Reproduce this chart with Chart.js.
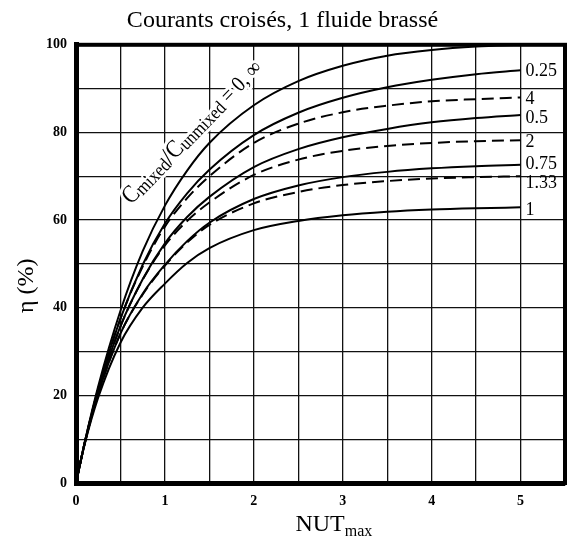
<!DOCTYPE html>
<html>
<head>
<meta charset="utf-8">
<script src="https://cdn.jsdelivr.net/npm/chart.js@4.4.1/dist/chart.umd.min.js"></script>
<style>
  html, body { margin: 0; padding: 0; background: #fff; }
  #wrap { width: 568px; height: 544px; }
</style>
</head>
<body>
<div id="wrap"><canvas id="effChart"></canvas></div>
<script>
const nut = [0, 0.1, 0.25, 0.5, 0.75, 1, 1.25, 1.5, 2, 2.5, 3, 3.5, 4, 4.5, 5]

// efficiency (%) for each Cmixed/Cunmixed ratio
const eta0   = [0, 9.5, 22.1, 39.3, 52.9, 63.3, 71.3, 77.6, 86.2, 91.7, 95.2, 97.5, 98.8, 99.6, 100]
const eta025 = [0, 9.4, 21.5, 37.5, 49.8, 59.2, 66.1, 71.5, 79.4, 84.5, 87.9, 90.3, 92.0, 93.3, 94.2]
const eta4   = [0, 9.4, 21.5, 37.5, 49.4, 58.5, 65.0, 70.0, 77.6, 82.0, 84.6, 86.1, 87.1, 87.6, 88.0]
const eta05  = [0, 9.3, 20.9, 35.8, 46.5, 54.7, 60.7, 65.3, 72.1, 76.2, 78.9, 80.8, 82.3, 83.3, 84.0]
const eta2   = [0, 9.3, 20.9, 35.7, 46.4, 54.2, 59.8, 64.0, 70.3, 73.8, 75.8, 76.9, 77.6, 78.0, 78.2]
const eta075 = [0, 9.2, 20.4, 34.1, 43.2, 49.8, 55.2, 59.4, 64.8, 67.9, 69.8, 71.0, 71.8, 72.3, 72.6]
const eta133 = [0, 9.2, 20.4, 34.1, 43.0, 49.6, 54.9, 58.9, 63.8, 66.4, 68.0, 68.9, 69.5, 69.8, 70.0]
const eta1   = [0, 9.0, 19.5, 32.0, 40.0, 45.5, 50.2, 53.6, 57.7, 59.8, 61.1, 61.9, 62.4, 62.7, 62.9]

const ratioNames = ['0, ∞', '0.25', '4', '0.5', '2', '0.75', '1.33', '1']
const xTickLabels = [0, 1, 2, 3, 4, 5]
const yTickLabels = [0, 20, 40, 60, 80, 100]

const SERIF = '"Liberation Serif", "DejaVu Serif", serif'

const series = [
  { name: ratioNames[0], values: eta0,   dashed: false, shift: 0 },
  { name: ratioNames[1], values: eta025, dashed: false, shift: 1 },
  { name: ratioNames[2], values: eta4,   dashed: true,  shift: 2 },
  { name: ratioNames[3], values: eta05,  dashed: false, shift: 3 },
  { name: ratioNames[4], values: eta2,   dashed: true,  shift: 2 },
  { name: ratioNames[5], values: eta075, dashed: false, shift: -1 },
  { name: ratioNames[6], values: eta133, dashed: true,  shift: 7 },
  { name: ratioNames[7], values: eta1,   dashed: false, shift: 3 },
]

const datasets = series.map((s, i) => ({
  label: s.name,
  data: nut.map((n, k) => ({ x: n, y: s.values[k] })),
  borderColor: '#000',
  borderWidth: 2,
  borderDash: s.dashed ? [12, 6] : [],
  pointRadius: 0,
  fill: false,
  cubicInterpolationMode: 'monotone',
  endLabel: i === 0 ? null : s.name,
  labelShift: s.shift,
}))

// text drawn on the chart: end labels, ratio caption, axis titles, frame
const chartText = {
  id: 'chartText',
  afterDatasetsDraw(chart) {
    const { ctx, scales: { x, y } } = chart
    ctx.save()
    ctx.fillStyle = '#000'

    // labels at the end of each curve
    ctx.font = '18px ' + SERIF
    ctx.textBaseline = 'middle'
    ctx.textAlign = 'left'
    chart.data.datasets.forEach(ds => {
      if (!ds.endLabel) return
      const last = ds.data[ds.data.length - 1]
      ctx.fillText(ds.endLabel, x.getPixelForValue(last.x) + 5, y.getPixelForValue(last.y) + ds.labelShift)
    })

    // rotated caption along the top curve
    const parts = [
      { t: 'C', size: 25, dy: 0 },
      { t: 'mixed', size: 19, dy: 2 },
      { t: '/', size: 26, dy: 1 },
      { t: 'C', size: 25, dy: 0 },
      { t: 'unmixed', size: 19, dy: 2 },
      { t: ' = 0, ' + '∞', size: 22, dy: 0 },
    ]
    ctx.translate(x.getPixelForValue(0.62), y.getPixelForValue(63.4))
    ctx.rotate(-46 * Math.PI / 180)
    ctx.scale(0.88, 1)
    ctx.textBaseline = 'alphabetic'
    ctx.lineJoin = 'round'
    for (const pass of ['halo', 'ink']) {
      let cx = 0
      parts.forEach(p => {
        ctx.font = p.size + 'px ' + SERIF
        if (pass === 'halo') {
          ctx.strokeStyle = '#fff'
          ctx.lineWidth = 6
          ctx.strokeText(p.t, cx, p.dy)
        } else {
          ctx.fillText(p.t, cx, p.dy)
        }
        cx += ctx.measureText(p.t).width
      })
    }
    ctx.restore()
  },
  afterDraw(chart) {
    const { ctx, chartArea: a, scales: { x, y } } = chart
    ctx.save()
    // frame
    ctx.strokeStyle = '#000'
    ctx.lineWidth = 4
    ctx.strokeRect(a.left, a.top, a.right - a.left, a.bottom - a.top)

    // x title with subscript
    ctx.fillStyle = '#000'
    ctx.textBaseline = 'alphabetic'
    ctx.textAlign = 'left'
    ctx.font = '24px ' + SERIF
    const main = 'NUT'
    const wMain = ctx.measureText(main).width
    ctx.font = '16px ' + SERIF
    const wSub = ctx.measureText('max').width
    const x0 = x.getPixelForValue(2.9) - (wMain + wSub) / 2
    ctx.font = '24px ' + SERIF
    ctx.fillText(main, x0, 531)
    ctx.font = '16px ' + SERIF
    ctx.fillText('max', x0 + wMain, 536)

    // y title
    ctx.translate(27, y.getPixelForValue(45))
    ctx.rotate(-Math.PI / 2)
    ctx.textAlign = 'center'
    ctx.textBaseline = 'middle'
    ctx.font = '24px ' + SERIF
    ctx.fillText('η (%)', 0, 0)
    ctx.restore()
  }
}

const effCtx = document.getElementById('effChart')

const effChart = new Chart(effCtx, {
  type: 'line',
  data: { datasets },
  options: {
    responsive: true,
    maintainAspectRatio: false,
    animation: false,
    layout: { padding: { right: 3 } },
    plugins: {
      legend: { display: false },
      tooltip: { enabled: false },
      title: {
        display: true,
        text: 'Courants croisés, 1 fluide brassé',
        color: '#000',
        font: { family: SERIF, size: 24, weight: 'normal', lineHeight: 1.2 },
        padding: { top: 6, bottom: 10 },
      },
    },
    scales: {
      x: {
        type: 'linear',
        min: 0,
        max: 5.5,
        afterFit: s => { s.height = 61; s.paddingLeft = 0; s.paddingRight = 0 },
        grid: { color: '#111', lineWidth: 1.3, drawTicks: false },
        border: { color: '#000', width: 5 },
        ticks: {
          stepSize: 0.5,
          autoSkip: false,
          maxRotation: 0,
          padding: 10,
          color: '#000',
          font: { family: SERIF, size: 14, weight: 'bold' },
          callback: v => xTickLabels.includes(v) ? v : '',
        },
      },
      y: {
        min: 0,
        max: 100,
        afterFit: s => { s.width = 76 },
        grid: { color: '#111', lineWidth: 1.3, drawTicks: false },
        border: { color: '#000', width: 5 },
        ticks: {
          stepSize: 10,
          padding: 9,
          color: '#000',
          font: { family: SERIF, size: 14, weight: 'bold' },
          callback: v => yTickLabels.includes(v) ? v : '',
        },
      },
    },
  },
  plugins: [chartText],
})
</script>
</body>
</html>
